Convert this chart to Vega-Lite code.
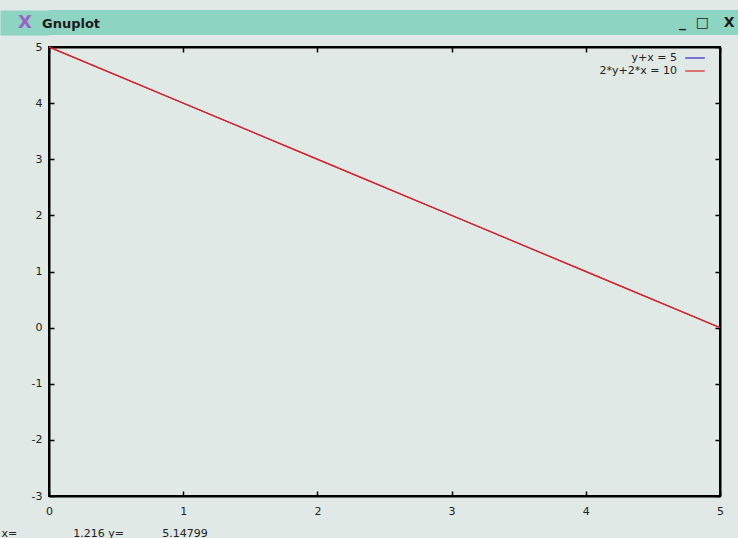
{
  "$schema": "https://vega.github.io/schema/vega-lite/v6.json",
  "background": "#e0e9e5",
  "padding": {"left": 0, "top": 10, "right": 0, "bottom": 0},
  "spacing": 0,
  "config": {
    "font": "DejaVu Sans",
    "view": {"stroke": null}
  },
  "vconcat": [
    {
      "width": 689,
      "height": 25,
      "view": {"fill": "#8ed4c2", "stroke": null},
      "title": {"text": "Gnuplot", "anchor": "start", "frame": "group", "offset": -21, "dx": -7, "fontSize": 13, "fontWeight": "bold", "color": "#1b1b1b", "font": "DejaVu Sans"},
      "data": {"values": [{"t": "", "v": 0}]},
      "mark": {"type": "text"},
      "encoding": {
        "text": {"field": "t"},
        "x": {
          "field": "v", "type": "quantitative", "scale": {"domain": [0, 1]},
          "axis": {
            "domain": false, "ticks": false, "labels": false, "grid": false,
            "title": "_\u00a0\u00a0\u25a1\u00a0\u00a0\u00a0X", "titleX": 685, "titleY": -13, "titleAlign": "right", "titleBaseline": "middle",
            "titleFontSize": 14, "titleFontWeight": "bold", "titleColor": "#1b1b1b", "titleFont": "DejaVu Sans"
          }
        },
        "y": {
          "field": "v", "type": "quantitative", "scale": {"domain": [0, 1]},
          "axis": {
            "domain": true, "domainColor": "#8ed4c2", "domainWidth": 49, "offset": 24.5,
            "ticks": false, "labels": false, "grid": false,
            "title": "X", "titleAngle": 0, "titleX": 0, "titleY": 12, "titleAlign": "center", "titleBaseline": "middle",
            "titleFontSize": 18, "titleFontWeight": "bold", "titleColor": "#9b63c9", "titleFont": "DejaVu Sans"
          }
        }
      }
    },
    {
      "width": 671,
      "height": 449,
      "view": {"stroke": "black", "strokeWidth": 2},
      "data": {
        "values": [
          {"series": "y+x = 5", "x": 0, "y": 5},
          {"series": "y+x = 5", "x": 1, "y": 4},
          {"series": "y+x = 5", "x": 2, "y": 3},
          {"series": "y+x = 5", "x": 3, "y": 2},
          {"series": "y+x = 5", "x": 4, "y": 1},
          {"series": "y+x = 5", "x": 5, "y": 0},
          {"series": "2*y+2*x = 10", "x": 0, "y": 5},
          {"series": "2*y+2*x = 10", "x": 1, "y": 4},
          {"series": "2*y+2*x = 10", "x": 2, "y": 3},
          {"series": "2*y+2*x = 10", "x": 3, "y": 2},
          {"series": "2*y+2*x = 10", "x": 4, "y": 1},
          {"series": "2*y+2*x = 10", "x": 5, "y": 0}
        ]
      },
      "layer": [
        {
          "encoding": {
            "x": {
              "field": "x", "type": "quantitative",
              "scale": {"domain": [0, 5], "nice": false, "zero": false},
              "axis": {
                "values": [0, 1, 2, 3, 4, 5], "labelExpr": "datum.value + ''", "grid": false,
                "tickSize": -5, "tickColor": "black", "tickWidth": 1.5,
                "domainColor": "black", "domainWidth": 2,
                "labelPadding": 14, "labelFlush": false, "labelFontSize": 11, "labelColor": "#222", "labelFont": "DejaVu Sans",
                "title": "x=\u00a0\u00a0\u00a0\u00a0\u00a0\u00a0\u00a0\u00a0\u00a0\u00a0\u00a0\u00a0\u00a0\u00a0\u00a0\u00a01.216 y=\u00a0\u00a0\u00a0\u00a0\u00a0\u00a0\u00a0\u00a0\u00a0\u00a0\u00a05.14799",
                "titleAnchor": "start", "titleAlign": "left", "titleX": -48, "titleY": 37, "titleBaseline": "middle",
                "titleFontWeight": "normal", "titleFontSize": 11, "titleColor": "#222", "titleFont": "DejaVu Sans"
              }
            },
            "y": {
              "field": "y", "type": "quantitative",
              "scale": {"domain": [-3, 5], "nice": false, "zero": false},
              "axis": {
                "values": [-3, -2, -1, 0, 1, 2, 3, 4, 5], "labelExpr": "datum.value + ''", "grid": false, "title": null,
                "tickSize": -5, "tickColor": "black", "tickWidth": 1.5,
                "domainColor": "black", "domainWidth": 2,
                "labelPadding": 12, "labelFlush": false, "labelFontSize": 11, "labelColor": "#222", "labelFont": "DejaVu Sans"
              }
            },
            "color": {
              "field": "series", "type": "nominal",
              "scale": {"domain": ["y+x = 5", "2*y+2*x = 10"], "range": ["#2a2ac8", "#dc2222"]},
              "legend": {
                "orient": "none", "legendX": 638, "legendY": 40, "title": null,
                "labelAlign": "right", "labelOffset": -26, "labelFontSize": 11, "labelColor": "#222", "labelFont": "DejaVu Sans", "labelLimit": 300,
                "symbolType": "M-1.4,0H1.4", "symbolSize": 196, "symbolStrokeWidth": 1.2,
                "rowPadding": 0, "padding": 0
              }
            }
          },
          "layer": [
            {
              "transform": [{"filter": "datum.series === 'y+x = 5'"}],
              "mark": {"type": "line", "strokeWidth": 1}
            },
            {
              "transform": [{"filter": "datum.series === '2*y+2*x = 10'"}],
              "mark": {"type": "line", "strokeWidth": 1.4}
            }
          ]
        },
        {
          "mark": {"type": "line", "opacity": 0},
          "encoding": {
            "x": {
              "field": "x", "type": "quantitative",
              "scale": {"domain": [0, 5], "nice": false, "zero": false},
              "axis": {
                "orient": "top", "values": [0, 1, 2, 3, 4, 5], "labels": false, "grid": false, "title": null,
                "tickSize": -5, "tickColor": "black", "tickWidth": 1.5,
                "domainColor": "black", "domainWidth": 2
              }
            },
            "y": {
              "field": "y", "type": "quantitative",
              "scale": {"domain": [-3, 5], "nice": false, "zero": false},
              "axis": {
                "orient": "right", "values": [-3, -2, -1, 0, 1, 2, 3, 4, 5], "labels": false, "grid": false, "title": null,
                "tickSize": -5, "tickColor": "black", "tickWidth": 1.5,
                "domainColor": "black", "domainWidth": 2
              }
            },
            "detail": {"field": "series"}
          }
        }
      ],
      "resolve": {"scale": {"x": "independent", "y": "independent"}}
    }
  ]
}
